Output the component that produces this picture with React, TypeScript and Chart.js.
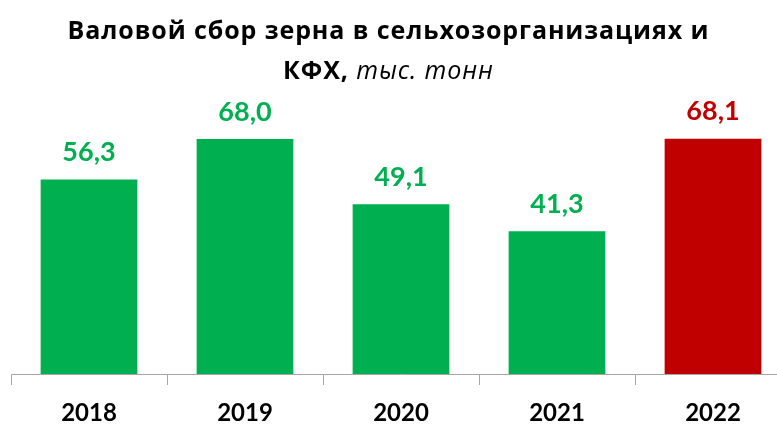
import React, { useEffect, useRef } from "react";
import { Chart, registerables } from "chart.js";

Chart.register(...registerables);

const categories = ["2018", "2019", "2020", "2021", "2022"];
const values = [56.3, 68.0, 49.1, 41.3, 68.1];
const barColors = ["#00B050", "#00B050", "#00B050", "#00B050", "#C00000"];
const valueLabels = ["56,3", "68,0", "49,1", "41,3", "68,1"];
const titleBold1 = "Валовой сбор зерна в сельхозорганизациях и";
const titleBold2 = "КФХ,";
const titleItalic2 = "тыс. тонн";

const FONT = "Lato, 'Open Sans', sans-serif";
const TITLE_FONT = "'Open Sans', Lato, sans-serif";

const valueLabelPlugin = {
  id: "valueLabels",
  afterDatasetsDraw(chart: any) {
    const ctx = chart.ctx;
    const meta = chart.getDatasetMeta(0);
    ctx.save();
    ctx.font = `bold 27px ${FONT}`;
    ctx.textAlign = "center";
    ctx.textBaseline = "middle";
    meta.data.forEach((bar: any, i: number) => {
      ctx.fillStyle = barColors[i];
      ctx.fillText(valueLabels[i], bar.x, bar.y - 27);
    });
    ctx.restore();
  },
};

export default function App() {
  const canvasRef = useRef<HTMLCanvasElement | null>(null);

  useEffect(() => {
    document.body.style.margin = "0";
    const canvas = canvasRef.current;
    if (!canvas) return;
    const chart = new Chart(canvas, {
      type: "bar",
      data: {
        labels: categories,
        datasets: [
          {
            data: values,
            backgroundColor: barColors,
            borderWidth: 0,
            categoryPercentage: 1,
            barPercentage: 0.62,
          },
        ],
      },
      options: {
        animation: false,
        responsive: false,
        maintainAspectRatio: false,
        layout: { padding: { top: 97.5, left: 11, right: 9, bottom: 0 } },
        plugins: {
          legend: { display: false },
          title: { display: false },
          tooltip: { enabled: false },
        },
        scales: {
          x: {
            offset: true,
            border: { display: true, color: "#A6A6A6", width: 1 },
            grid: {
              display: true,
              drawOnChartArea: false,
              drawTicks: true,
              tickLength: 11,
              color: "#A6A6A6",
              offset: true,
            },
            ticks: {
              color: "#000000",
              font: { family: FONT, size: 24, weight: "bold" },
              padding: 14,
            },
            afterFit(scale: any) {
              scale.height = 53;
            },
          },
          y: {
            display: false,
            min: 0,
            max: 80,
          },
        },
      },
      plugins: [valueLabelPlugin],
    } as any);
    return () => chart.destroy();
  }, []);

  return (
    <div style={{ position: "relative", width: 777, height: 427, overflow: "hidden", background: "#fff" }}>
      <canvas ref={canvasRef} width={800} height={427} style={{ position: "absolute", left: 0, top: 0, width: 800, height: 427 }} />
      <div
        style={{
          position: "absolute",
          left: 0,
          top: 9,
          width: 777,
          textAlign: "center",
          fontFamily: TITLE_FONT,
          fontSize: 25,
          letterSpacing: "0.9px",
          lineHeight: "40px",
          color: "#000",
        }}
      >
        <div style={{ fontWeight: "bold" }}>{titleBold1}</div>
        <div>
          <span style={{ fontWeight: "bold" }}>{titleBold2}</span>{" "}
          <span style={{ fontStyle: "italic" }}>{titleItalic2}</span>
        </div>
      </div>
    </div>
  );
}
